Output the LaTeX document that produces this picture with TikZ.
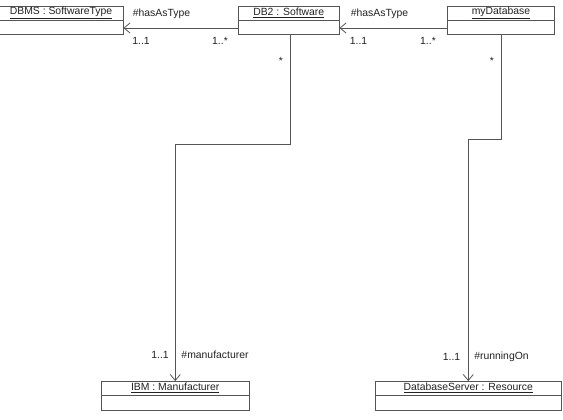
\documentclass[tikz,border=0pt]{standalone}
\usepackage{fontspec}
\setmainfont{Liberation Sans}
\usetikzlibrary{arrows.meta}
\definecolor{linegray}{HTML}{555555}
\definecolor{textgray}{HTML}{222222}
\tikzset{
  umlbox/.style={draw=linegray, line width=0.8pt, minimum height=28pt, inner sep=0pt,
    path picture={\draw[linegray, line width=0.8pt] (path picture bounding box.west) -- (path picture bounding box.east);}},
  umltitle/.style={inner sep=0pt, text=textgray, font=\fontsize{10.4}{12}\selectfont},
  lbl/.style={inner sep=0pt, text=textgray, font=\fontsize{10.4}{12}\selectfont},
  assoc/.style={draw=linegray, line width=0.8pt, -{Straight Barb[length=6pt,width=10pt]}}
}
\begin{document}
\begin{tikzpicture}[x=1pt,y=-1pt]
\useasboundingbox (0,0) rectangle (563,420);
% boxes
\node[umlbox, minimum width=124pt] (dbms) at (61,20) {};
\node[umltitle] (dbmst) at ([yshift=-7pt]dbms.north) {\underline{DBMS : SoftwareType}};
\node[umlbox, minimum width=100.5pt] (db2) at (288.75,20) {};
\node[umltitle] (db2t) at ([yshift=-7pt]db2.north) {\underline{DB2 : Software}};
\node[umlbox, minimum width=107pt] (mydb) at (501,20) {};
\node[umltitle] (mydbt) at ([yshift=-7pt]mydb.north) {\underline{myDatabase}};
\node[umlbox, minimum width=147.5pt, minimum height=28.5pt] (ibm) at (175.25,395.75) {};
\node[umltitle] (ibmt) at ([yshift=-7pt]ibm.north) {\underline{IBM : Manufacturer}};
\node[umlbox, minimum width=186.5pt, minimum height=28.5pt] (dbs) at (468.25,395.75) {};
\node[umltitle] (dbst) at ([yshift=-7pt]dbs.north) {\underline{DatabaseServer : Resource}};
% connectors
\draw[assoc] ([yshift=-8pt]db2.west) -- ([yshift=-8pt]dbms.east);
\draw[assoc] ([yshift=-8pt]mydb.west) -- ([yshift=-8pt]db2.east);
\draw[assoc] ([xshift=1.25pt]db2.south) -- ++(0,110) -| (ibm.north);
\draw[assoc] (mydb.south) -- ++(0,105.5) -| (dbs.north);
% labels
\node[lbl] (l1) at (161.5,14) {\#hasAsType};
\node[lbl] (l2) at (141,41) {1..1};
\node[lbl] (l3) at (220,41) {1..*};
\node[lbl] (l4) at (281,61) {*};
\node[lbl] (l5) at (379.5,14) {\#hasAsType};
\node[lbl] (l6) at (358.5,41) {1..1};
\node[lbl] (l7) at (428,41) {1..*};
\node[lbl] (l8) at (492,61) {*};
\node[lbl] (l9) at (160,355) {1..1};
\node[lbl] (l10) at (215,355) {\#manufacturer};
\node[lbl] (l11) at (451.5,357) {1..1};
\node[lbl] (l12) at (501.5,357) {\#runningOn};
\end{tikzpicture}
\end{document}
